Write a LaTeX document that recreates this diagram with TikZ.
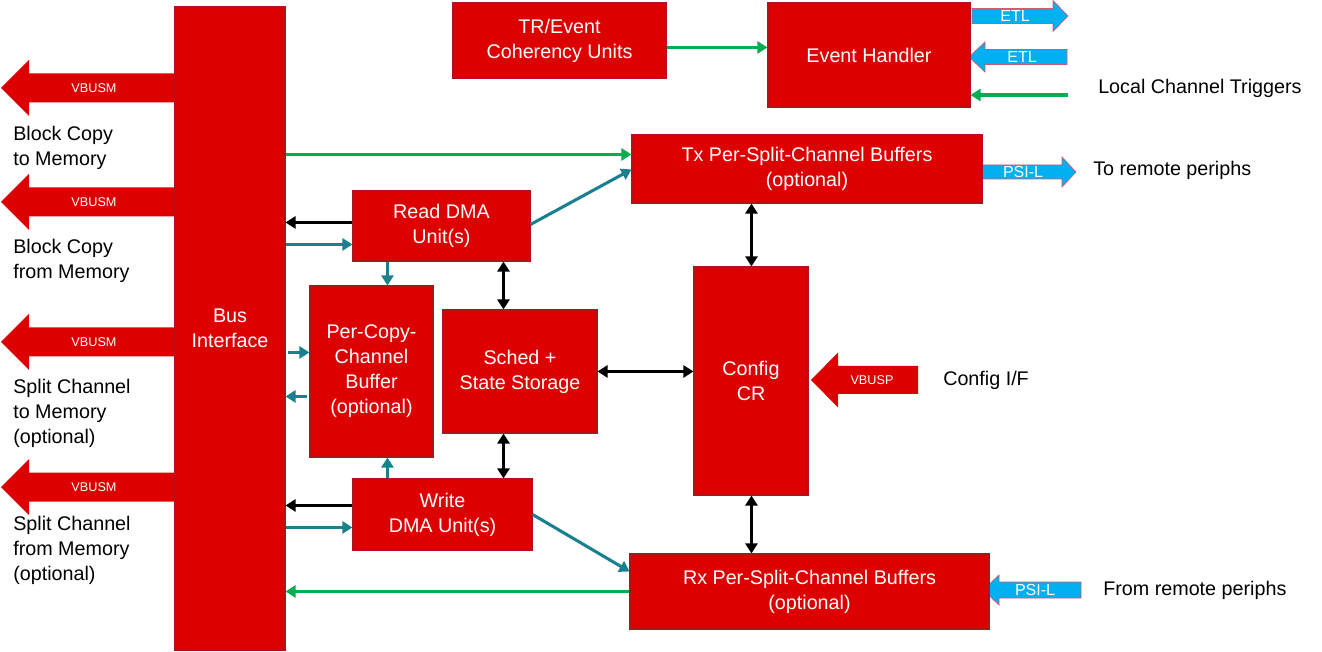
\documentclass[tikz,border=0pt]{standalone}
\usepackage{fontspec}
\setmainfont{Liberation Sans}
\usetikzlibrary{arrows.meta,calc}
\definecolor{tired}{RGB}{221,0,0}
\definecolor{tiborder}{RGB}{175,20,30}
\definecolor{tiblue}{RGB}{0,176,240}
\definecolor{tiblueborder}{RGB}{205,90,110}
\definecolor{tigreen}{RGB}{0,176,80}
\definecolor{titeal}{RGB}{24,128,142}
\newcommand\blk[6]{\node[box, minimum width={(#4-#2)*0.75pt}, minimum height={(#5-#3)*0.75pt}] (#1) at ({(#2+#4)/2},{(#3+#5)/2}) {#6};}
% fat arrow: tip x, y, head base x, tail x, half body, half head, style
\newcommand\fatarr[7]{\filldraw[#7] (#1,#2) -- (#3,#2-#6) -- (#3,#2-#5) -- (#4,#2-#5) -- (#4,#2+#5) -- (#3,#2+#5) -- (#3,#2+#6) -- cycle;}
\begin{document}
\begin{tikzpicture}[x=0.75pt,y=-0.75pt,
  box/.style={draw=tiborder, fill=tired, line width=0.8pt, text=white, align=center, inner sep=0pt, font=\fontsize{14.8}{18.75}\selectfont},
  lbl/.style={anchor=west, align=left, inner sep=0pt, font=\fontsize{14.8}{18.75}\selectfont},
  vbus/.style={fill=tired, draw=none},
  etl/.style={fill=tiblue, draw=tiblueborder, line width=0.5pt},
  smalltxt/.style={text=white, inner sep=0pt, font=\fontsize{9.5}{11}\selectfont},
  bluetxt/.style={text=white, inner sep=0pt, font=\fontsize{12}{13}\selectfont},
  conn/.style={line width=2.3pt, -{Triangle[length=7.5pt,width=9pt]}},
  bidir/.style={line width=2.3pt, {Triangle[length=7.5pt,width=9pt]}-{Triangle[length=7.5pt,width=9pt]}, black},
]
\useasboundingbox (0,0) rectangle (1322,652);

% fat arrows
\fatarr{1}{88}{29}{176}{14.5}{28}{vbus}
\fatarr{1}{202}{29}{176}{14.5}{28}{vbus}
\fatarr{1}{342}{29}{176}{14.5}{28}{vbus}
\fatarr{1}{487}{29}{176}{14.5}{28}{vbus}
\node[smalltxt] (v1) at (94,88) {VBUSM};
\node[smalltxt] (v2) at (94,202) {VBUSM};
\node[smalltxt] (v3) at (94,342) {VBUSM};
\node[smalltxt] (v4) at (94,487) {VBUSM};

\fatarr{811}{380}{838}{918}{14}{27.5}{vbus}
\node[smalltxt] (vp) at (872,380) {VBUSP};

\fatarr{1068}{16}{1053}{972}{7.5}{15.5}{etl}
\node[bluetxt] (etl1) at (1015,16) {ETL};
\fatarr{969}{57}{985}{1067}{7.5}{15}{etl}
\node[bluetxt] (etl2) at (1022,57) {ETL};
\fatarr{1076}{172}{1062}{980}{7}{15}{etl}
\node[bluetxt] (psi1) at (1023,172) {PSI-L};
\fatarr{983}{590}{999}{1081}{8}{15}{etl}
\node[bluetxt] (psi2) at (1035,590) {PSI-L};

% boxes
\blk{bus}{175}{7}{285}{650}{Bus\\Interface}
\blk{tr}{453}{3}{666}{78}{TR/Event\\Coherency Units}
\blk{eh}{768}{3}{970}{107}{Event Handler}
\blk{tx}{632}{135}{982}{203}{Tx Per-Split-Channel Buffers\\(optional)}
\blk{rd}{353}{191}{530}{261}{Read DMA\\Unit(s)}
\blk{pc}{310}{286}{433}{457}{Per-Copy-\\Channel\\Buffer\\(optional)}
\blk{sch}{443}{310}{597}{433}{Sched +\\State Storage}
\blk{cfg}{694}{267}{808}{495}{Config\\CR}
\blk{wr}{353}{479}{532}{550}{Write\\DMA Unit(s)}
\blk{rx}{630}{554}{989}{629}{Rx Per-Split-Channel Buffers\\(optional)}

% side labels
\node[lbl] (l1) at (13,148) {Block Copy\\to Memory};
\node[lbl] (l2) at (13,261) {Block Copy\\from Memory};
\node[lbl] (l3) at (13,413) {Split Channel\\to Memory\\(optional)};
\node[lbl] (l4) at (13,550) {Split Channel\\from Memory\\(optional)};
\node[lbl] (lct) at (1098,88) {Local Channel Triggers};
\node[lbl] (trp) at (1093,170) {To remote periphs};
\node[lbl] (cif) at (943,380) {Config I/F};
\node[lbl] (frp) at (1103,590) {From remote periphs};
\coordinate (lctin) at (1068,95);

% connectors
\draw[conn, tigreen] ($(tr.north east)+(0,45)$) -- ($(eh.north west)+(0,45)$);
\draw[conn, tigreen] (lctin) -- (lctin -| eh.east);
\draw[conn, tigreen] ($(bus.north east)+(0,148)$) -- ($(tx.north west)+(0,20)$);
\draw[conn, titeal] ($(rd.north east)+(0,34)$) -- ($(tx.north west)+(0,35)$);
\draw[conn, black] ($(rd.north west)+(0,32)$) -- ($(bus.north east)+(0,216)$);
\draw[conn, titeal] ($(bus.north east)+(0,238)$) -- ($(rd.north west)+(0,54)$);
\draw[conn, titeal] ($(rd.south west)+(35,0)$) -- ($(pc.north west)+(78,0)$);
\draw[conn, titeal] ($(bus.north east)+(2,346)$) -- ($(pc.north west)+(0,67)$);
\draw[conn, titeal] ($(pc.north west)+(-2,111)$) -- ($(bus.north east)+(0,390)$);
\draw[conn, titeal] ($(wr.north west)+(35,0)$) -- ($(pc.south west)+(78,0)$);
\draw[conn, black] ($(wr.north west)+(0,27)$) -- ($(bus.north east)+(0,499)$);
\draw[conn, titeal] ($(bus.north east)+(0,521)$) -- ($(wr.north west)+(0,49)$);
\draw[conn, titeal] ($(wr.north east)+(0,36)$) -- ($(rx.north west)+(0,18)$);
\draw[conn, tigreen] ($(rx.north west)+(0,38)$) -- ($(bus.north east)+(0,585)$);
\draw[bidir] ($(rd.south west)+(151,0)$) -- ($(sch.north west)+(61,0)$);
\draw[bidir] ($(sch.south west)+(61,0)$) -- ($(wr.north west)+(151,0)$);
\draw[bidir] ($(sch.north east)+(0,62)$) -- ($(cfg.north west)+(0,105)$);
\draw[bidir] ($(tx.south west)+(120,0)$) -- ($(cfg.north west)+(58,0)$);
\draw[bidir] ($(cfg.south west)+(58,0)$) -- ($(rx.north west)+(122,0)$);
\end{tikzpicture}
\end{document}
